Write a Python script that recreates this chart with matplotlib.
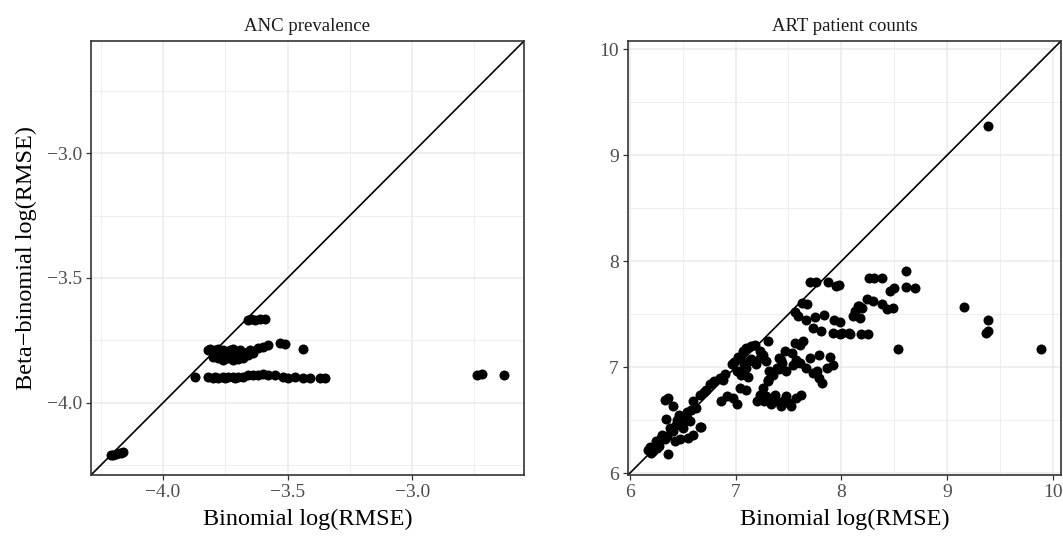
import matplotlib
matplotlib.use("Agg")
import matplotlib.pyplot as plt
import numpy as np

# ANC prevalence panel: binomial vs beta-binomial log(RMSE)
anc_x = [-4.21, -4.20, -4.19, -4.18, -4.17, -4.16, -3.87,
         -3.82, -3.80, -3.79, -3.78, -3.76, -3.75, -3.74, -3.72, -3.71, -3.70,
         -3.68, -3.66, -3.64, -3.62, -3.60, -3.58, -3.55, -3.52, -3.50, -3.47,
         -3.44, -3.41, -3.37, -3.35,
         -3.82, -3.81, -3.80, -3.79, -3.78, -3.77, -3.76, -3.75, -3.74, -3.73,
         -3.72, -3.71, -3.70, -3.69, -3.68, -3.67, -3.66, -3.65, -3.64,
         -3.80, -3.78, -3.76, -3.74, -3.72, -3.70, -3.68, -3.66, -3.76, -3.72, -3.70,
         -3.62, -3.60, -3.58, -3.53, -3.51, -3.44,
         -3.66, -3.645, -3.63, -3.61, -3.59,
         -2.74, -2.72, -2.63]
anc_y = [-4.21, -4.21, -4.205, -4.20, -4.20, -4.195, -3.895,
         -3.895, -3.90, -3.895, -3.90, -3.895, -3.90, -3.895, -3.895, -3.90, -3.895,
         -3.895, -3.89, -3.89, -3.89, -3.885, -3.89, -3.89, -3.895, -3.90, -3.895,
         -3.90, -3.90, -3.90, -3.90,
         -3.79, -3.785, -3.80, -3.79, -3.785, -3.80, -3.79, -3.795, -3.80, -3.79,
         -3.785, -3.80, -3.795, -3.79, -3.80, -3.80, -3.795, -3.79, -3.80,
         -3.815, -3.82, -3.81, -3.82, -3.825, -3.815, -3.82, -3.81, -3.83, -3.83, -3.825,
         -3.78, -3.775, -3.77, -3.76, -3.765, -3.785,
         -3.67, -3.665, -3.67, -3.665, -3.665,
         -3.89, -3.885, -3.89]

# ART patient counts panel
art_x = [6.17, 6.19, 6.20, 6.22, 6.25, 6.28, 6.31, 6.33, 6.36, 6.38, 6.41, 6.44,
         6.47, 6.49, 6.50, 6.52, 6.54, 6.54, 6.57, 6.60, 6.63, 6.66, 6.66, 6.67,
         6.72, 6.80, 6.85, 6.33, 6.36, 6.41, 6.34, 6.30, 6.26, 6.35, 6.45, 6.58,
         6.70, 6.76, 6.88, 6.90, 6.48, 6.55, 6.60, 6.43,
         6.86, 6.92, 6.98, 7.01, 7.04, 7.10,
         6.97, 7.01, 7.04, 7.07, 7.10, 7.15, 7.18, 7.10, 7.13, 7.05, 7.12, 7.19,
         7.23, 7.26, 7.23, 7.29, 7.32, 7.31, 6.99, 7.02, 7.08, 7.15,
         7.26, 7.31, 7.35, 7.41, 7.43,
         7.20, 7.26, 7.32, 7.38, 7.45, 7.51, 7.57, 7.62, 7.23, 7.29, 7.37, 7.48,
         7.52, 7.43, 7.34, 7.27,
         7.41, 7.44, 7.39, 7.48, 7.54,
         7.47, 7.53, 7.57, 7.61, 7.67, 7.73, 7.79, 7.82,
         7.70, 7.79, 7.89, 7.92, 7.86, 7.77,
         7.31, 7.56, 7.61, 7.64,
         7.73, 7.81, 7.92, 8.01, 8.07,
         7.67, 7.75, 7.84, 7.93,
         7.56, 7.59, 7.63, 7.68,
         7.70, 7.76, 7.87, 7.95,
         7.98, 8.26, 8.31, 8.38, 8.61, 8.46, 8.50, 8.61, 8.70, 8.24, 8.30, 8.38,
         8.16, 8.13, 8.11, 8.18, 8.20, 8.43, 8.49, 7.99, 8.08, 8.19, 8.25, 7.99, 8.17,
         8.54, 9.16, 9.39, 9.37, 9.39, 9.89, 9.39]
art_y = [6.22, 6.25, 6.19, 6.21, 6.30, 6.26, 6.36, 6.32, 6.18, 6.43, 6.40, 6.46,
         6.55, 6.52, 6.43, 6.49, 6.52, 6.58, 6.49, 6.68, 6.62, 6.74, 6.44, 6.44,
         6.79, 6.87, 6.90, 6.69, 6.71, 6.63, 6.51, 6.33, 6.24, 6.35, 6.50, 6.60,
         6.77, 6.84, 6.88, 6.94, 6.32, 6.33, 6.36, 6.30,
         6.68, 6.73, 6.71, 6.65, 6.80, 6.79,
         7.03, 6.96, 7.09, 7.15, 7.18, 7.20, 7.21, 6.99, 7.06, 6.93, 6.91, 7.03,
         7.09, 7.12, 7.15, 7.06, 6.96, 6.88, 7.05, 7.10, 7.02, 7.08,
         6.80, 6.87, 6.93, 6.98, 7.07,
         6.68, 6.71, 6.70, 6.68, 6.68, 6.66, 6.71, 6.74, 6.74, 6.73, 6.74, 6.73,
         6.63, 6.63, 6.65, 6.68,
         7.09, 7.04, 6.99, 6.96, 7.02,
         7.15, 7.13, 7.07, 7.04, 6.99, 6.95, 6.90, 6.85,
         7.09, 7.12, 7.10, 7.02, 6.99, 6.96,
         7.25, 7.23, 7.21, 7.25,
         7.37, 7.34, 7.32, 7.32, 7.32,
         7.45, 7.47, 7.49, 7.45,
         7.52, 7.48, 7.61, 7.60,
         7.80, 7.80, 7.80, 7.77,
         7.78, 7.84, 7.84, 7.84, 7.91, 7.72, 7.75, 7.76, 7.75, 7.64, 7.62, 7.60,
         7.58, 7.53, 7.48, 7.46, 7.56, 7.55, 7.56, 7.31, 7.31, 7.31, 7.31, 7.43, 7.58,
         7.17, 7.57, 7.45, 7.32, 7.34, 7.17, 9.27]

anc_ticks = [-4.0, -3.5, -3.0]
anc_labels = ['\u22124.0', '\u22123.5', '\u22123.0']
art_ticks = [6, 7, 8, 9, 10]
art_labels = ['6', '7', '8', '9', '10']

titles = ["ANC prevalence", "ART patient counts"]

plt.rcParams['font.family'] = ['Liberation Serif', 'DejaVu Serif']

GRID = '#EBEBEB'
DARK = '#333333'


def panel(ax, x, y, ticks, labels, title, ylabel=None):
    x = np.asarray(x)
    y = np.asarray(y)
    # same limits on both axes, ggplot style 5% expansion
    lo = min(x.min(), y.min())
    hi = max(x.max(), y.max())
    pad = (hi - lo) * 0.05
    lims = (lo - pad, hi + pad)

    step = ticks[1] - ticks[0]
    minor = np.arange(ticks[0] - step / 2, ticks[-1] + step, step)

    ax.set_xticks(ticks, labels)
    ax.set_yticks(ticks, labels)
    ax.set_xticks(minor, minor=True)
    ax.set_yticks(minor, minor=True)
    ax.set_xlim(lims)
    ax.set_ylim(lims)

    ax.grid(which='major', color=GRID, linewidth=1.1)
    ax.grid(which='minor', color=GRID, linewidth=0.6)
    ax.set_axisbelow(True)
    ax.tick_params(which='major', length=3.5, width=0.9, color=DARK,
                   labelsize=14, labelcolor='#4D4D4D', pad=3)
    ax.tick_params(which='minor', length=0)
    for s in ax.spines.values():
        s.set_color(DARK)
        s.set_linewidth(1.2)

    ax.plot(lims, lims, color='black', linewidth=1.2, zorder=2)
    ax.scatter(x, y, s=52, color='black', linewidths=0, zorder=3)

    ax.set_title(title, fontsize=13.5, color='#1A1A1A', pad=7)
    ax.set_xlabel('Binomial log(RMSE)', fontsize=17.5, color='black')
    ax.xaxis.set_label_coords(0.5, -0.078)
    if ylabel:
        ax.set_ylabel(ylabel, fontsize=17.5, color='black')
        ax.yaxis.set_label_coords(-0.125, 0.5)


fig = plt.figure(figsize=(10.63, 5.37), dpi=100)
ax1 = fig.add_axes([91 / 1063, 1 - 475 / 537, 433 / 1063, 434 / 537])
ax2 = fig.add_axes([628 / 1063, 1 - 475 / 537, 433 / 1063, 434 / 537])

panel(ax1, anc_x, anc_y, anc_ticks, anc_labels, titles[0],
      ylabel='Beta\u2212binomial log(RMSE)')
panel(ax2, art_x, art_y, art_ticks, art_labels, titles[1])

fig.savefig('out.png', dpi=100)
